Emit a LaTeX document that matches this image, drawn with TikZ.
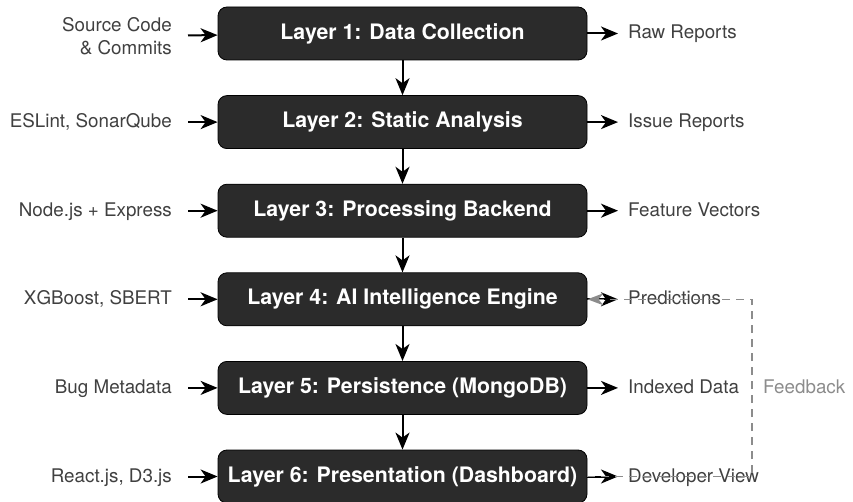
\documentclass[tikz,border=0pt]{standalone}
\usepackage{fontspec}
\setmainfont{TeX Gyre Heros}
\usetikzlibrary{arrows.meta}
\definecolor{boxfill}{HTML}{2B2B2B}
\definecolor{labeltext}{HTML}{404040}
\definecolor{fbgray}{HTML}{8C8C8C}
\tikzset{
  layerbox/.style={draw=black, line width=0.8pt, fill=boxfill, rounded corners=9pt,
    minimum width=369pt, minimum height=53pt, inner sep=0pt,
    text=white, font=\fontsize{21.3}{25}\selectfont\bfseries},
  sidelabel/.style={inner sep=0pt, text=labeltext, text height=13pt, text depth=2pt,
    font=\fontsize{18.8}{23.5}\selectfont},
  flow/.style={draw=black, line width=2pt,
    -{Stealth[length=17pt, width=14pt, inset=5pt]}},
  feedback/.style={draw=fbgray, line width=1.4pt, dash pattern=on 8pt off 6pt,
    -{Stealth[length=16pt, width=12pt, inset=5pt]}}
}
\begin{document}
\begin{tikzpicture}[x=1pt, y=-1pt]
  \useasboundingbox (0,0) rectangle (853,502);

  % the six layers
  \node[layerbox] (L1) at (402.5, 33.5) {Layer 1: Data Collection};
  \node[layerbox] (L2) at (402.5, 122.1) {Layer 2: Static Analysis};
  \node[layerbox] (L3) at (402.5, 210.7) {Layer 3: Processing Backend};
  \node[layerbox] (L4) at (402.5, 299.3) {Layer 4: AI Intelligence Engine};
  \node[layerbox] (L5) at (402.5, 387.9) {Layer 5: Persistence (MongoDB)};
  \node[layerbox] (L6) at (402.5, 476.5) {Layer 6: Presentation (Dashboard)};

  % inputs on the left
  \node[sidelabel, anchor=east, align=right, text height=, text depth=] (in1) at (172, 36) {Source Code\\\& Commits};
  \node[sidelabel, anchor=east] (in2) at (172, 122.1) {ESLint, SonarQube};
  \node[sidelabel, anchor=east] (in3) at (172, 210.7) {Node.js + Express};
  \node[sidelabel, anchor=east] (in4) at (172, 299.3) {XGBoost, SBERT};
  \node[sidelabel, anchor=east] (in5) at (172, 387.9) {Bug Metadata};
  \node[sidelabel, anchor=east] (in6) at (172, 476.5) {React.js, D3.js};

  % outputs on the right
  \node[sidelabel, anchor=west] (out1) at (628, 33.5) {Raw Reports};
  \node[sidelabel, anchor=west] (out2) at (628, 122.1) {Issue Reports};
  \node[sidelabel, anchor=west] (out3) at (628, 210.7) {Feature Vectors};
  \node[sidelabel, anchor=west] (out4) at (628, 299.3) {Predictions};
  \node[sidelabel, anchor=west] (out5) at (628, 387.9) {Indexed Data};
  \node[sidelabel, anchor=west] (out6) at (628, 476.5) {Developer View};

  % feedback loop column and label
  \coordinate (fbx) at (752, 0);
  \node[sidelabel, anchor=west, text=fbgray] (fblabel) at (763, 387.9) {Feedback};

  % main flow between layers
  \foreach \a/\b in {L1/L2, L2/L3, L3/L4, L4/L5, L5/L6}
    \draw[flow] (\a) -- (\b);

  % inputs and outputs
  \foreach \i in {1,...,6} {
    \draw[flow, shorten <=16pt] (in\i) -- (L\i);
    \draw[flow, shorten >=10pt] (L\i) -- (out\i);
  }

  % feedback from the dashboard back to the AI engine
  \draw[feedback] (L6.east) -- (L6.east -| fbx) -- (L4.east -| fbx) -- (L4.east);
\end{tikzpicture}
\end{document}
